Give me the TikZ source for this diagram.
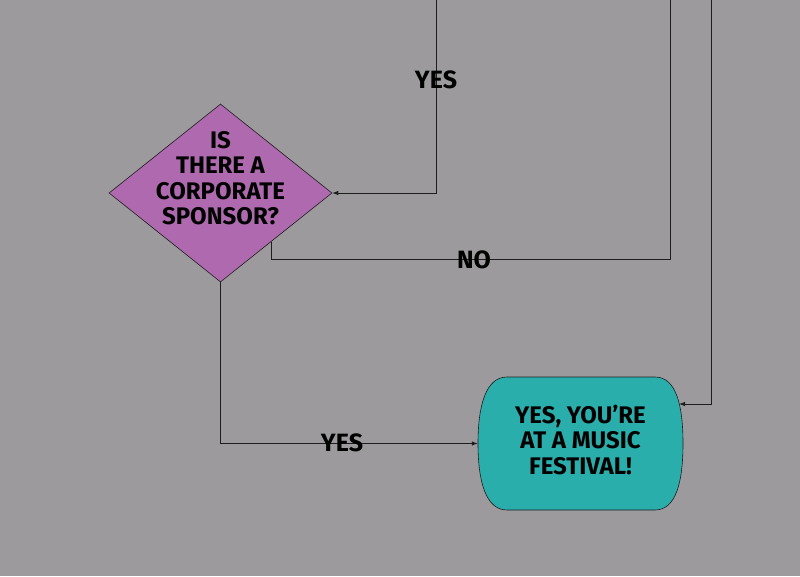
\documentclass[tikz,border=0pt]{standalone}
\usepackage{fontspec}
\setmainfont{Fira Sans}
\usetikzlibrary{shapes.geometric,arrows.meta}
\definecolor{bgc}{RGB}{156,154,157}
\definecolor{dec}{RGB}{175,106,175}
\definecolor{term}{RGB}{42,174,172}
\definecolor{ln}{RGB}{30,30,30}
\tikzset{
  conn/.style={draw=ln,line width=0.8pt},
  arr/.style={conn,-{Latex[length=6pt,width=4.5pt]}},
  txt/.style={font=\fontsize{24}{25.5}\selectfont\bfseries,align=center,text=black,inner sep=0pt},
  lbl/.style={font=\fontsize{25}{25}\selectfont\bfseries,text=black,inner sep=0pt},
  decision/.style={diamond,draw=ln,line width=0.6pt,fill=dec,minimum width=223pt,minimum height=178pt,inner sep=0pt}
}
\begin{document}
\begin{tikzpicture}[x=1pt,y=1pt]
\fill[bgc] (0,0) rectangle (800,-576);
\useasboundingbox (0,0) rectangle (800,-576);
% decision
\node[decision] (dec) at (220.5,-193) {};
\node[txt] (dectxt) at (220.5,-178) {IS\\THERE A\\CORPORATE\\SPONSOR?};
% terminal
\fill[term,draw=ln,line width=0.6pt] (507,-377) -- (655,-377)
  .. controls (676,-377) and (683,-405) .. (683,-443.5)
  .. controls (683,-482) and (676,-510) .. (655,-510) -- (507,-510)
  .. controls (486,-510) and (478,-482) .. (478,-443.5)
  .. controls (478,-405) and (486,-377) .. (507,-377) -- cycle;
\node[minimum width=205pt,minimum height=133pt,inner sep=0pt] (end) at (580.5,-443.5) {};
\node[txt] (endtxt) at (580.5,-440) {YES, YOU'RE\\AT A MUSIC\\FESTIVAL!};
% coordinates
\coordinate (topA) at (436,0);
\coordinate (topB) at (670,0);
\coordinate (topC) at (711,0);
\coordinate (noout) at (271,-241.5);
\coordinate (endin) at (679,-404);
% connectors
\draw[arr] (topA) |- (dec.east);
\node[lbl] (yes1) at (436,-80) {YES};
\draw[conn] (noout) |- (topB |- 0,-259) -- (topB);
\node[lbl] (no) at (474,-260) {NO};
\draw[arr] (topC) |- (endin);
\draw[arr] (dec.south) |- (end.west);
\node[lbl] (yes2) at (342,-443) {YES};
\end{tikzpicture}
\end{document}
